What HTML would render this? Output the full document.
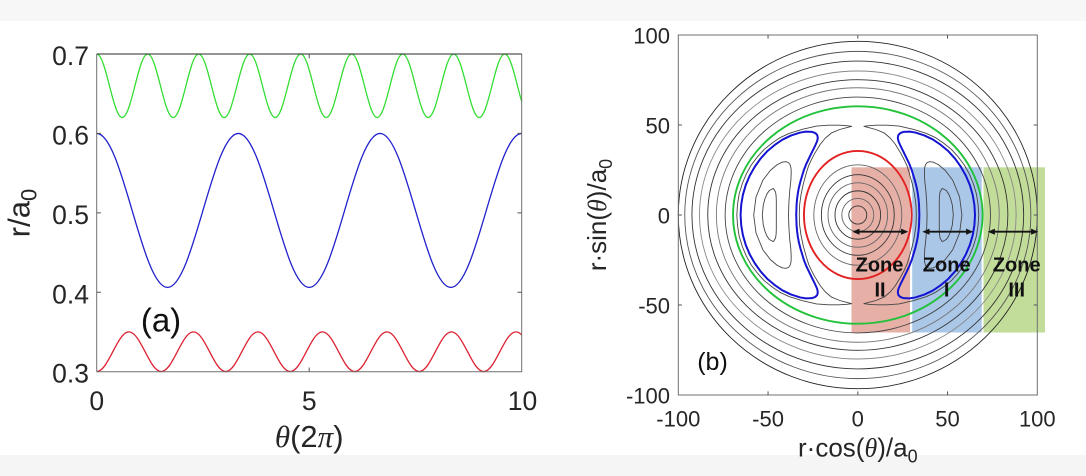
<!DOCTYPE html>
<html><head><meta charset="utf-8">
<style>
html,body{margin:0;padding:0;background:#fff}
svg{display:block}
text{font-family:"Liberation Sans",Arial,sans-serif;fill:#262626}
.it{font-family:"Liberation Serif",serif;font-style:italic}
</style></head>
<body>
<svg width="1086" height="476" viewBox="0 0 1086 476" xmlns="http://www.w3.org/2000/svg">
<rect width="1086" height="476" fill="#fff"/>
<rect width="1086" height="21" fill="#f7f7f7"/>
<rect y="455" width="1086" height="21" fill="#f5f5f5"/>

<defs>
<clipPath id="ca"><rect x="96.7" y="50" width="425" height="326"/></clipPath>
</defs>

<!-- ================= Panel (a) ================= -->
<g clip-path="url(#ca)" fill="none" stroke-width="1.3">
<path transform="translate(96.7 85.76) scale(51 31.76)" vector-effect="non-scaling-stroke" stroke="#33dd33"
d="M0,-1c0.0905,0 0.1685,0.4877 0.25,1s0.1595,1 0.25,1s0.1685,-0.4877 0.25,-1s0.1595,-1 0.25,-1s0.1685,0.4877 0.25,1s0.1595,1 0.25,1s0.1685,-0.4877 0.25,-1s0.1595,-1 0.25,-1s0.1685,0.4877 0.25,1s0.1595,1 0.25,1s0.1685,-0.4877 0.25,-1s0.1595,-1 0.25,-1s0.1685,0.4877 0.25,1s0.1595,1 0.25,1s0.1685,-0.4877 0.25,-1s0.1595,-1 0.25,-1s0.1685,0.4877 0.25,1s0.1595,1 0.25,1s0.1685,-0.4877 0.25,-1s0.1595,-1 0.25,-1s0.1685,0.4877 0.25,1s0.1595,1 0.25,1s0.1685,-0.4877 0.25,-1s0.1595,-1 0.25,-1s0.1685,0.4877 0.25,1s0.1595,1 0.25,1s0.1685,-0.4877 0.25,-1s0.1595,-1 0.25,-1s0.1685,0.4877 0.25,1s0.1595,1 0.25,1s0.1685,-0.4877 0.25,-1s0.1595,-1 0.25,-1s0.1685,0.4877 0.25,1s0.1595,1 0.25,1s0.1685,-0.4877 0.25,-1s0.1595,-1 0.25,-1"/>
<path transform="translate(96.7 210.45) scale(141.67 77)" vector-effect="non-scaling-stroke" stroke="#2222cc"
d="M0,-1c0.0905,0 0.1685,0.4877 0.25,1s0.1595,1 0.25,1s0.1685,-0.4877 0.25,-1s0.1595,-1 0.25,-1s0.1685,0.4877 0.25,1s0.1595,1 0.25,1s0.1685,-0.4877 0.25,-1s0.1595,-1 0.25,-1s0.1685,0.4877 0.25,1s0.1595,1 0.25,1s0.1685,-0.4877 0.25,-1s0.1595,-1 0.25,-1"/>
<path transform="translate(64.45 351.7) scale(64.5 19.85)" vector-effect="non-scaling-stroke" stroke="#dd2233"
d="M0,-1c0.0905,0 0.1685,0.4877 0.25,1s0.1595,1 0.25,1s0.1685,-0.4877 0.25,-1s0.1595,-1 0.25,-1s0.1685,0.4877 0.25,1s0.1595,1 0.25,1s0.1685,-0.4877 0.25,-1s0.1595,-1 0.25,-1s0.1685,0.4877 0.25,1s0.1595,1 0.25,1s0.1685,-0.4877 0.25,-1s0.1595,-1 0.25,-1s0.1685,0.4877 0.25,1s0.1595,1 0.25,1s0.1685,-0.4877 0.25,-1s0.1595,-1 0.25,-1s0.1685,0.4877 0.25,1s0.1595,1 0.25,1s0.1685,-0.4877 0.25,-1s0.1595,-1 0.25,-1s0.1685,0.4877 0.25,1s0.1595,1 0.25,1s0.1685,-0.4877 0.25,-1s0.1595,-1 0.25,-1s0.1685,0.4877 0.25,1s0.1595,1 0.25,1s0.1685,-0.4877 0.25,-1s0.1595,-1 0.25,-1s0.1685,0.4877 0.25,1s0.1595,1 0.25,1s0.1685,-0.4877 0.25,-1s0.1595,-1 0.25,-1"/>
</g>
<g fill="none" stroke-width="1">
<path d="M96.7,371.7V54M96.7,371.7H521.7V54" stroke="#707070"/>
<path d="M96.7,54H521.7" stroke="#2a2a2a"/>
<path d="M96.7,133.4h4.2M96.7,212.85h4.2M96.7,292.3h4.2M521.7,133.4h-4.2M521.7,212.85h-4.2M521.7,292.3h-4.2M309.2,371.7v-4.2M309.2,54v4.2" stroke="#555"/>
</g>
<g font-size="26.5" text-anchor="end">
<text x="89" y="65">0.7</text>
<text x="89" y="144.4">0.6</text>
<text x="89" y="223.9">0.5</text>
<text x="89" y="303.3">0.4</text>
<text x="89" y="382.7">0.3</text>
</g>
<g font-size="26.5" text-anchor="middle">
<text x="96.7" y="410">0</text>
<text x="309.2" y="410">5</text>
<text x="522.5" y="410">10</text>
</g>
<text x="309.2" y="447" font-size="31" text-anchor="middle"><tspan class="it">θ</tspan>(2<tspan class="it">π</tspan>)</text>
<text transform="translate(29.5 213) rotate(-90)" font-size="31" text-anchor="middle">r/a<tspan font-size="22" dy="7">0</tspan></text>
<text x="161" y="331.5" font-size="33" text-anchor="middle" style="fill:#111">(a)</text>

<!-- ================= Panel (b) ================= -->
<rect x="851.5" y="167.3" width="58.5" height="165.2" fill="#e6b0a6"/>
<rect x="912.2" y="167.3" width="69.5" height="165.2" fill="#aac7e8"/>
<rect x="983.5" y="167.3" width="61.5" height="165.2" fill="#c2dd9a"/>

<g transform="translate(857.8 215) scale(1.795 -1.8)" fill="none" stroke-linejoin="round">
  <g stroke-width="0.9">
    <ellipse rx="100" ry="96.5" stroke="#222" vector-effect="non-scaling-stroke"/>
    <ellipse rx="96.4" ry="90.9" stroke="#555" vector-effect="non-scaling-stroke"/>
    <ellipse rx="92.4" ry="85.5" stroke="#333" vector-effect="non-scaling-stroke"/>
    <ellipse rx="88.2" ry="80" stroke="#888" vector-effect="non-scaling-stroke"/>
    <ellipse rx="83.6" ry="75.2" stroke="#333" vector-effect="non-scaling-stroke"/>
    <ellipse rx="78.8" ry="70.7" stroke="#777" vector-effect="non-scaling-stroke"/>
    <ellipse rx="73.9" ry="65.5" stroke="#444" vector-effect="non-scaling-stroke"/>
    <ellipse rx="5" ry="5.05" stroke="#333" vector-effect="non-scaling-stroke"/>
    <ellipse rx="8.9" ry="9.2" stroke="#666" vector-effect="non-scaling-stroke"/>
    <ellipse rx="12.7" ry="13.4" stroke="#333" vector-effect="non-scaling-stroke"/>
    <ellipse rx="16.6" ry="17.9" stroke="#666" vector-effect="non-scaling-stroke"/>
    <ellipse rx="20.3" ry="22.4" stroke="#333" vector-effect="non-scaling-stroke"/>
    <ellipse rx="24.5" ry="27.9" stroke="#666" vector-effect="non-scaling-stroke"/>
  </g>
  <g id="isl">
    <path stroke="#444" stroke-width="0.9" vector-effect="non-scaling-stroke"
      d="M67.4,0L67,5.87 66.1,11.65 64.4,17.3 62.2,22.6 59.4,27.7 55.9,32.3 52.1,36.5 47.7,40 43.1,43.1 38.1,45.4 30.9,47.6 23,49.4 16.2,49.9 10.6,49.9 6.1,49.6 3.4,49.3 6,48.6 10.1,47.5 14.8,45.5 18.1,42.7 20.9,39.3 24,34.2 25.8,30.8 27.4,27.4 28.5,23.9 30.3,17.5 31.6,11.5 32.4,5.7 32.6,0 32.4,-5.7 31.6,-11.5 30.3,-17.5 28.5,-23.9 27.4,-27.4 25.8,-30.8 24,-34.2 20.9,-39.3 18.1,-42.7 14.8,-45.5 10.1,-47.5 6,-48.6 3.4,-49.3 6.1,-49.6 10.6,-49.9 16.2,-49.9 23,-49.4 30.9,-47.6 38.1,-45.4 43.1,-43.1 47.7,-40 52.1,-36.5 55.9,-32.3 59.4,-27.7 62.2,-22.6 64.4,-17.3 66.1,-11.65 67,-5.87Z"/>
    <path stroke="#444" stroke-width="0.9" vector-effect="non-scaling-stroke"
      d="M58,0L56.7,10 52.9,19.3 48.7,24.8 44.9,28 41.9,29.4 40,29.6 38.6,29.1 37.7,27.9 37.2,26 37.1,23.2 37.3,19 37.9,13.8 38.4,6.8 38.6,0 38.4,-6.8 37.9,-13.8 37.3,-19 37.1,-23.2 37.2,-26 37.7,-27.9 38.6,-29.1 40,-29.6 41.9,-29.4 44.9,-28 48.7,-24.8 52.9,-19.3 56.7,-10Z"/>
    <path stroke="#444" stroke-width="0.9" vector-effect="non-scaling-stroke"
      d="M53.2,0L52.66,5.53 51.7,9.1 50.6,11.7 49.3,13.6 47,14.8 45.8,12.7 45.5,10.5 45.4,8 45.4,4.77 45.4,0 45.4,-4.77 45.4,-8 45.5,-10.5 45.8,-12.7 47,-14.8 49.3,-13.6 50.6,-11.7 51.7,-9.1 52.66,-5.53Z"/>
    <path stroke="#1414d2" stroke-width="2" vector-effect="non-scaling-stroke"
      d="M65.3,0L64.95,5.7 64,11.3 62.4,16.7 60.2,21.9 57.4,26.8 54.2,31.3 50.5,35.4 46.3,38.9 41.9,41.9 37.1,44.2 32.1,45.8 28.9,46.3 25.6,46.2 24.4,45.8 23.5,45.4 22.6,44.4 22.3,43.1 22.4,42.1 22.7,40.9 23.9,38.2 25.1,35.8 26.9,32.1 28.6,28.6 30,25.1 31,21.8 32,18.5 32.8,15.3 33.4,12.1 33.8,9.1 34.1,6 34.3,0 34.1,-6 33.8,-9.1 33.4,-12.1 32.8,-15.3 32,-18.5 31,-21.8 30,-25.1 28.6,-28.6 26.9,-32.1 25.1,-35.8 23.9,-38.2 22.7,-40.9 22.4,-42.1 22.3,-43.1 22.6,-44.4 23.5,-45.4 24.4,-45.8 25.6,-46.2 28.9,-46.3 32.1,-45.8 37.1,-44.2 41.9,-41.9 46.3,-38.9 50.5,-35.4 54.2,-31.3 57.4,-26.8 60.2,-21.9 62.4,-16.7 64,-11.3 64.95,-5.7Z"/>
  </g>
  <use href="#isl" transform="scale(-1 1)"/>
  <ellipse rx="69.5" ry="60.4" stroke="#22c23a" stroke-width="1.9" vector-effect="non-scaling-stroke"/>
  <ellipse rx="30" ry="35.6" stroke="#e22222" stroke-width="1.9" vector-effect="non-scaling-stroke"/>
</g>

<g fill="none" stroke-width="1">
<rect x="678.3" y="35" width="359" height="360" stroke="#707070"/>
<path d="M678.3,125h3.6M678.3,215h3.6M678.3,305h3.6M1037.3,125h-3.6M1037.3,215h-3.6M1037.3,305h-3.6M768.05,395v-3.6M857.8,395v-3.6M947.55,395v-3.6M768.05,35v3.6M857.8,35v3.6M947.55,35v3.6" stroke="#555"/>
</g>

<g stroke="#151515" stroke-width="1.8">
<path d="M858,231.7H902.5M928,231.7H967.5M993.5,231.7H1032.5"/>
</g>
<g fill="#151515">
<polygon points="852.3,231.7 859.5,228.6 859.5,234.8"/>
<polygon points="908.3,231.7 901.1,228.6 901.1,234.8"/>
<polygon points="922.3,231.7 929.5,228.6 929.5,234.8"/>
<polygon points="973.3,231.7 966.1,228.6 966.1,234.8"/>
<polygon points="987.7,231.7 994.9,228.6 994.9,234.8"/>
<polygon points="1038.3,231.7 1031.1,228.6 1031.1,234.8"/>
</g>

<g font-size="20" font-weight="bold" text-anchor="middle">
<text x="879.5" y="271.7" style="fill:#111">Zone</text>
<text x="880" y="296.7" style="fill:#111">II</text>
<text x="946.7" y="271.7" style="fill:#111">Zone</text>
<text x="946.7" y="296.7" style="fill:#111">I</text>
<text x="1016.7" y="271.7" style="fill:#111">Zone</text>
<text x="1016.7" y="296.7" style="fill:#111">III</text>
</g>

<g font-size="22" text-anchor="end">
<text x="670" y="43.5">100</text>
<text x="670" y="133.5">50</text>
<text x="670" y="223.5">0</text>
<text x="670" y="313.5">-50</text>
<text x="670" y="403.5">-100</text>
</g>
<g font-size="22" text-anchor="middle">
<text x="678.3" y="426.5">-100</text>
<text x="768.05" y="426.5">-50</text>
<text x="857.8" y="426.5">0</text>
<text x="947.55" y="426.5">50</text>
<text x="1037.3" y="426.5">100</text>
</g>
<text x="857.8" y="456.5" font-size="26" text-anchor="middle">r·cos(<tspan class="it">θ</tspan>)/a<tspan font-size="18" dy="6">0</tspan></text>
<text transform="translate(606 215) rotate(-90)" font-size="26" text-anchor="middle">r·sin(<tspan class="it">θ</tspan>)/a<tspan font-size="18" dy="6">0</tspan></text>
<text x="712.5" y="370" font-size="25" text-anchor="middle" style="fill:#111">(b)</text>
</svg>
</body></html>
